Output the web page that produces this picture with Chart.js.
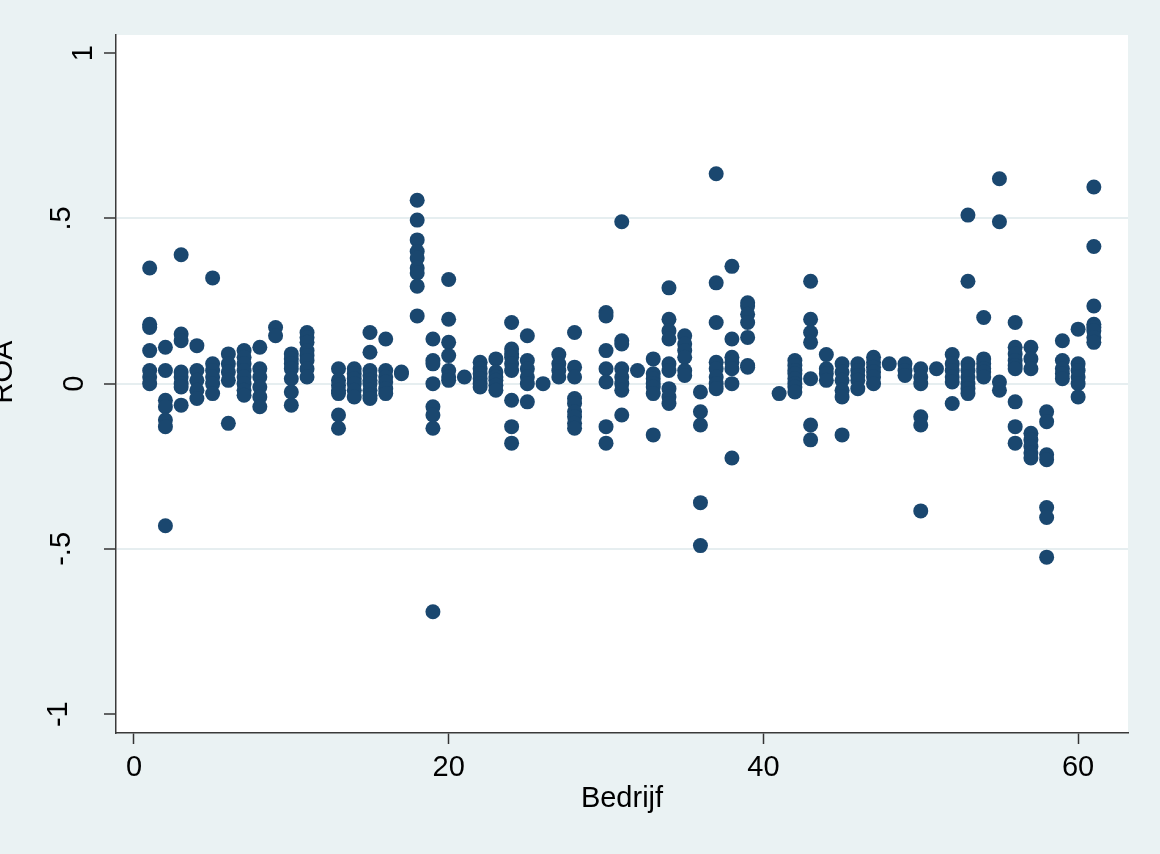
<!DOCTYPE html>
<html>
<head>
<meta charset="utf-8">
<script src="https://cdn.jsdelivr.net/npm/chart.js@4.4.0/dist/chart.umd.min.js"></script>
<style>
  body { margin: 0; background: #eaf2f3; }
  #wrap { width: 1160px; height: 854px; }
</style>
</head>
<body>
<div id="wrap"><canvas id="myChart" width="1160" height="854"></canvas></div>
<script>
const bedrijf = [1, 2, 3, 4, 5, 6, 7, 8, 9, 10, 11, 13, 14, 15, 16, 17, 18, 19, 20, 21,
  22, 23, 24, 25, 26, 27, 28, 30, 31, 32, 33, 34, 35, 36, 37, 38, 39, 41, 42, 43,
  44, 45, 46, 47, 48, 49, 50, 51, 52, 53, 54, 55, 56, 57, 58, 59, 60, 61];
const roa = [
  [0.35, 0.18, 0.17, 0.10, 0.04, 0.02, 0.0],
  [0.11, 0.04, -0.05, -0.07, -0.11, -0.13, -0.43],
  [0.39, 0.15, 0.13, 0.035, 0.02, 0.0, -0.01, -0.065],
  [0.115, 0.04, 0.01, -0.02, -0.045],
  [0.32, 0.06, 0.04, 0.02, 0.0, -0.03],
  [0.09, 0.06, 0.035, 0.01, -0.12],
  [0.10, 0.08, 0.06, 0.04, 0.02, 0.0, -0.02, -0.035],
  [0.11, 0.045, 0.02, -0.01, -0.04, -0.07],
  [0.17, 0.145],
  [0.09, 0.075, 0.06, 0.045, 0.015, -0.025, -0.065],
  [0.155, 0.14, 0.125, 0.10, 0.085, 0.07, 0.045, 0.02],
  [0.045, 0.01, -0.005, -0.02, -0.03, -0.095, -0.135],
  [0.045, 0.03, 0.015, 0.0, -0.02, -0.04],
  [0.155, 0.095, 0.04, 0.025, 0.01, 0.0, -0.02, -0.035, -0.045],
  [0.135, 0.04, 0.02, 0.005, -0.015, -0.03],
  [0.035, 0.03],
  [0.555, 0.495, 0.435, 0.40, 0.38, 0.35, 0.335, 0.295, 0.205],
  [0.135, 0.07, 0.06, 0.0, -0.07, -0.095, -0.135, -0.69],
  [0.315, 0.195, 0.125, 0.085, 0.04, 0.02, 0.01],
  [0.02],
  [0.065, 0.045, 0.03, 0.015, 0.0, -0.01],
  [0.075, 0.035, 0.02, 0.01, -0.005, -0.02],
  [0.185, 0.105, 0.09, 0.08, 0.06, 0.04, -0.05, -0.13, -0.18],
  [0.145, 0.07, 0.045, 0.02, 0.0, -0.055],
  [0.0],
  [0.088, 0.06, 0.04, 0.02],
  [0.155, 0.05, 0.02, -0.045, -0.06, -0.085, -0.10, -0.12, -0.135],
  [0.215, 0.205, 0.10, 0.045, 0.005, -0.13, -0.18],
  [0.49, 0.13, 0.12, 0.045, 0.02, 0.0, -0.02, -0.095],
  [0.04],
  [0.075, 0.03, 0.015, 0.0, -0.01, -0.03, -0.155],
  [0.29, 0.195, 0.16, 0.135, 0.06, 0.04, -0.015, -0.04, -0.06],
  [0.145, 0.12, 0.10, 0.08, 0.04, 0.025],
  [-0.025, -0.085, -0.125, -0.36, -0.49],
  [0.635, 0.305, 0.185, 0.065, 0.045, 0.02, 0.0, -0.015],
  [0.355, 0.135, 0.08, 0.065, 0.045, 0.0, -0.225],
  [0.245, 0.235, 0.21, 0.185, 0.14, 0.055, 0.05],
  [-0.03],
  [0.07, 0.055, 0.04, 0.03, 0.015, 0.0, -0.01, -0.025],
  [0.31, 0.195, 0.155, 0.125, 0.015, -0.125, -0.17],
  [0.088, 0.045, 0.03, 0.01],
  [0.06, 0.035, 0.01, -0.02, -0.04, -0.155],
  [0.06, 0.04, 0.025, 0.01, -0.015],
  [0.08, 0.065, 0.05, 0.035, 0.02, 0.0],
  [0.06],
  [0.06, 0.04, 0.025],
  [0.045, 0.02, 0.0, -0.10, -0.125, -0.385],
  [0.045],
  [0.088, 0.06, 0.04, 0.02, 0.005, -0.06],
  [0.51, 0.31, 0.06, 0.04, 0.02, 0.0, -0.015, -0.03],
  [0.20, 0.075, 0.06, 0.045, 0.035, 0.02],
  [0.62, 0.49, 0.005, -0.02],
  [0.185, 0.11, 0.09, 0.07, 0.055, 0.045, -0.055, -0.13, -0.18],
  [0.11, 0.075, 0.045, -0.15, -0.17, -0.19, -0.21, -0.225],
  [-0.085, -0.115, -0.215, -0.23, -0.375, -0.405, -0.525],
  [0.13, 0.07, 0.045, 0.03, 0.015],
  [0.165, 0.06, 0.04, 0.02, 0.0, -0.04],
  [0.595, 0.415, 0.235, 0.18, 0.17, 0.16, 0.14, 0.125]
];
const xTicks = [0, 20, 40, 60];
const yTicks = [-1, -0.5, 0, 0.5, 1];
const yTickLabels = ['-1', '-.5', '0', '.5', '1'];

const punten = [];
bedrijf.forEach((b, i) => {
  roa[i].forEach((v) => punten.push({ x: b, y: v }));
});

const fontFam = "'Liberation Sans', Arial, sans-serif";
// basislijn (x) van de gedraaide y-labels, zoals Stata ze zet
const yLabelBase = { '-1': 67, '-.5': 70, '0': 83, '.5': 70, '1': 92 };

// witte plot achtergrond + gedraaide y-labels (Stata stijl)
const stataPlugin = {
  id: 'stata',
  beforeDraw(chart) {
    const { ctx, chartArea } = chart;
    ctx.save();
    ctx.fillStyle = '#ffffff';
    ctx.fillRect(chartArea.left, chartArea.top, chartArea.right - chartArea.left, chartArea.bottom - chartArea.top);
    ctx.restore();
  },
  afterDraw(chart) {
    const { ctx, chartArea } = chart;
    const y = chart.scales.y;
    ctx.save();
    ctx.fillStyle = '#000000';
    ctx.font = '29px ' + fontFam;
    ctx.textAlign = 'center';
    ctx.textBaseline = 'alphabetic';
    yTicks.forEach((v, i) => {
      const lab = yTickLabels[i];
      ctx.save();
      ctx.translate(yLabelBase[lab], y.getPixelForValue(v));
      ctx.rotate(-Math.PI / 2);
      ctx.fillText(lab, 0, 0);
      ctx.restore();
    });
    ctx.save();
    ctx.translate(12, (chartArea.top + chartArea.bottom) / 2 - 12);
    ctx.rotate(-Math.PI / 2);
    ctx.fillText('ROA', 0, 0);
    ctx.restore();
    ctx.restore();
  }
};

const ctx = document.getElementById('myChart');
const chart = new Chart(ctx, {
  type: 'scatter',
  data: {
    datasets: [{
      label: 'ROA',
      data: punten,
      backgroundColor: '#1a476f',
      borderWidth: 0,
      pointRadius: 7.5,
      pointHoverRadius: 7.5
    }]
  },
  options: {
    responsive: false,
    animation: false,
    layout: { padding: { top: 35, right: 32, left: 0, bottom: 0 } },
    plugins: { legend: { display: false }, tooltip: { enabled: false } },
    scales: {
      x: {
        type: 'linear',
        position: 'bottom',
        min: -1.14,
        max: 63.17,
        afterBuildTicks: (s) => { s.ticks = xTicks.map((v) => ({ value: v })); },
        afterFit: (s) => { s.height = 121; },
        grid: { drawOnChartArea: false, drawTicks: true, tickLength: 11, tickColor: '#333333', tickWidth: 1.5 },
        border: { display: true, color: '#3a3a3a', width: 1.5 },
        ticks: { color: '#000000', padding: 7, maxRotation: 0, font: { size: 29, family: fontFam } },
        title: { display: true, text: 'Bedrijf', color: '#000000', padding: { top: 0, bottom: 38 }, font: { size: 29, family: fontFam } }
      },
      y: {
        type: 'linear',
        min: -1.057,
        max: 1.055,
        afterBuildTicks: (s) => { s.ticks = yTicks.map((v) => ({ value: v })); },
        afterFit: (s) => { s.width = 116; },
        grid: {
          color: (c) => (c.tick && Math.abs(c.tick.value) === 1 ? 'rgba(0,0,0,0)' : '#e6eef0'),
          lineWidth: 2,
          drawTicks: true,
          tickLength: 12,
          tickColor: '#333333',
          tickWidth: 1.5
        },
        border: { display: true, color: '#3a3a3a', width: 1.5 },
        ticks: { display: false }
      }
    }
  },
  plugins: [stataPlugin]
});
</script>
</body>
</html>
